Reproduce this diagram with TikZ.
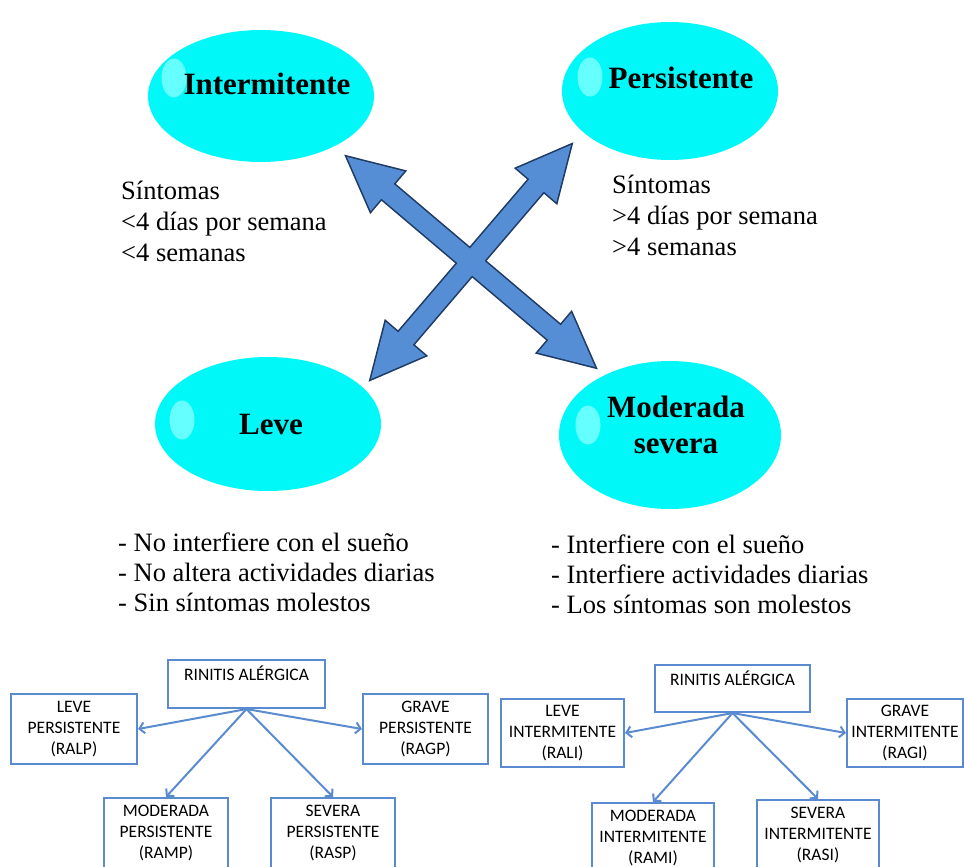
\documentclass[tikz,border=0pt]{standalone}
\usepackage{fontspec}
\setmainfont{Liberation Serif}
\newfontfamily\carlito{Carlito}
\usetikzlibrary{calc,arrows.meta,shapes.geometric}
\definecolor{cyanfill}{HTML}{00F8F8}
\definecolor{cyanhl}{HTML}{66FFFF}
\definecolor{arrowfill}{HTML}{558ED5}
\definecolor{arrowline}{HTML}{1F3B63}
\definecolor{boxblue}{HTML}{5A8BD0}
\def\hw{26pt}
\def\sw{9.5pt}
\newcommand\xarrowpath[3]{%
  \path[#3] (#1) -- ($(#1h)!\hw!90:(#2)$) -- ($(#1h)!\sw!90:(#2)$)
    -- ($(#2h)!\sw!-90:(#1)$) -- ($(#2h)!\hw!-90:(#1)$) -- (#2)
    -- ($(#2h)!\hw!90:(#1)$) -- ($(#2h)!\sw!90:(#1)$)
    -- ($(#1h)!\sw!-90:(#2)$) -- ($(#1h)!\hw!-90:(#2)$) -- cycle;}
\begin{document}
\begin{tikzpicture}[x=1pt,y=-1pt,
  bubble/.style={ellipse, fill=cyanfill, inner sep=0},
  hilite/.style={ellipse, fill=cyanhl, inner sep=0, minimum width=25, minimum height=39},
  bubtext/.style={font=\bfseries\fontsize{31}{36}\selectfont, align=center, inner sep=0},
  bodytext/.style={font=\fontsize{26.5}{31}\selectfont, align=left, inner sep=0, anchor=base west},
  bullettext/.style={font=\fontsize{26.5}{30}\selectfont, align=left, inner sep=0, anchor=base west},
  rbox/.style={draw=boxblue, line width=2.1pt, align=center, inner sep=1pt,
    font=\carlito\fontsize{17.5}{21}\selectfont, text=black},
  conn/.style={draw=boxblue, line width=2pt, -{Straight Barb[length=5pt,width=11pt]}}
]
\useasboundingbox (0,0) rectangle (964,867);
\clip (0,0) rectangle (964,867);

% bubbles
\node[bubble, minimum width=226, minimum height=132] (inter) at (261,96) {};
\node[hilite] (interhl) at (174,78) {};
\node[bubtext] (intertxt) at (267,84) {Intermitente};

\node[bubble, minimum width=216, minimum height=138] (pers) at (670,91) {};
\node[hilite] (pershl) at (590,77) {};
\node[bubtext] (perstxt) at (681,78) {Persistente};

\node[bubble, minimum width=226, minimum height=134] (leve) at (268,424) {};
\node[hilite] (levehl) at (182,420) {};
\node[bubtext] (levetxt) at (271,424) {Leve};

\node[bubble, minimum width=222, minimum height=148] (mod) at (670,435) {};
\node[hilite] (modhl) at (588,425) {};
\node[bubtext] (modtxt) at (676,425) {Moderada\\severa};

% cross arrows
\coordinate (a1) at (347,157);
\coordinate (b1) at (595,367);
\coordinate (a2) at (371,379);
\coordinate (b2) at (571,145);
\coordinate (a1h) at ($(a1)!53pt!(b1)$);
\coordinate (b1h) at ($(b1)!53pt!(a1)$);
\coordinate (a2h) at ($(a2)!53pt!(b2)$);
\coordinate (b2h) at ($(b2)!53pt!(a2)$);
\xarrowpath{a1}{b1}{draw=arrowline, line width=3.2pt, line join=miter}
\xarrowpath{a2}{b2}{draw=arrowline, line width=3.2pt, line join=miter}
\xarrowpath{a1}{b1}{fill=arrowfill}
\xarrowpath{a2}{b2}{fill=arrowfill}

% texts (base anchor = baseline of last line)
\node[bodytext] (sintint) at (121,261) {Síntomas\\<4 días por semana\\<4 semanas};
\node[bodytext] (sintpers) at (612,255) {Síntomas\\>4 días por semana\\>4 semanas};
\node[bullettext] (levelist) at (118,611) {- No interfiere con el sueño\\- No altera actividades diarias\\- Sin síntomas molestos};
\node[bullettext] (modlist) at (551,613) {- Interfiere con el sueño\\- Interfiere actividades diarias\\- Los síntomas son molestos};

% left tree
\node[rbox, minimum width=157, minimum height=48] (rinp) at (246.5,684) {RINITIS ALÉRGICA\\\mbox{}};
\node[rbox, minimum width=126, minimum height=70] (ralp) at (74,729) {LEVE\\PERSISTENTE\\(RALP)};
\node[rbox, minimum width=125, minimum height=70] (ragp) at (425.5,729) {GRAVE\\PERSISTENTE\\(RAGP)};
\node[rbox, minimum width=124, minimum height=70] (ramp) at (166,833) {MODERADA\\PERSISTENTE\\(RAMP)};
\node[rbox, minimum width=124, minimum height=70] (rasp) at (333,833) {SEVERA\\PERSISTENTE\\(RASP)};
\draw[conn] (rinp.south) -- (ralp.east);
\draw[conn] (rinp.south) -- (ragp.west);
\draw[conn] (rinp.south) -- (ramp.north);
\draw[conn] (rinp.south) -- (rasp.north);

% right tree
\node[rbox, minimum width=155, minimum height=47] (rini) at (732.5,688.5) {RINITIS ALÉRGICA\\\mbox{}};
\node[rbox, minimum width=123, minimum height=68] (rali) at (562.5,733) {LEVE\\INTERMITENTE\\(RALI)};
\node[rbox, minimum width=116, minimum height=68] (ragi) at (905,733) {GRAVE\\INTERMITENTE\\(RAGI)};
\node[rbox, minimum width=122, minimum height=70] (rami) at (653,838) {MODERADA\\INTERMITENTE\\(RAMI)};
\node[rbox, minimum width=122, minimum height=70] (rasi) at (818,835) {SEVERA\\INTERMITENTE\\(RASI)};
\draw[conn] (rini.south) -- (rali.east);
\draw[conn] (rini.south) -- (ragi.west);
\draw[conn] (rini.south) -- (rami.north);
\draw[conn] (rini.south) -- (rasi.north);
\end{tikzpicture}
\end{document}
